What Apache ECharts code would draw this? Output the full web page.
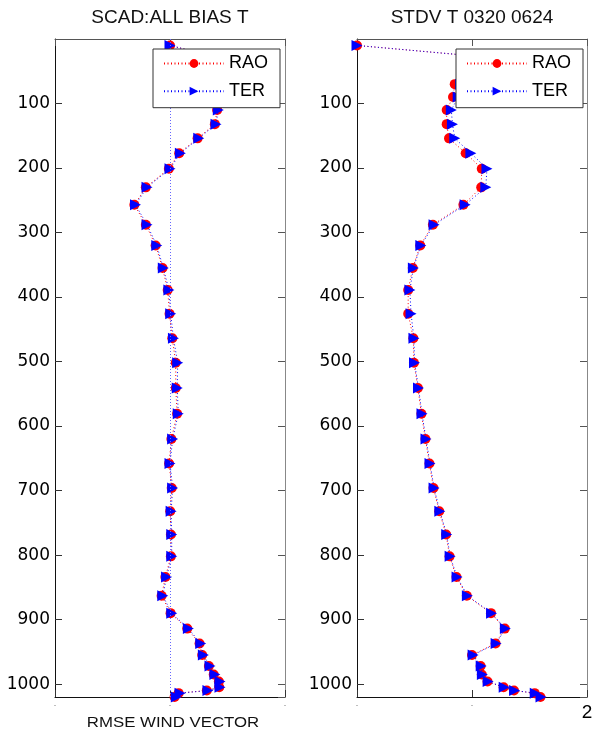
<!DOCTYPE html>
<html>
<head>
<meta charset="utf-8">
<script src="https://cdn.jsdelivr.net/npm/echarts@6/dist/echarts.min.js"></script>
<style>html,body{margin:0;padding:0;background:#fff}#c{width:596px;height:735px}</style>
</head>
<body>
<div id="c"></div>
<script>
// Pressure levels (hPa)
const levels = [10,30,50,70,90,110,132,154,177,201,230,257,288,320,355,389,426,464,502,541,581,620,658,696,732,768,802,834,863,890,914,937,955,972,985,996,1005,1010,1014,1020];
// Left panel: SCAD:ALL BIAS T
const raoBias = [0,0.45,0.6,0.62,0.5,0.41,0.39,0.24,0.08,-0.01,-0.21,-0.31,-0.21,-0.125,-0.065,-0.02,-0.004,0.02,0.05,0.05,0.062,0.012,-0.008,0.015,0.002,0.008,0.008,-0.04,-0.073,0.005,0.15,0.257,0.28,0.338,0.38,0.425,0.428,0.32,0.075,0.04];
const terBias = [0,0.45,0.6,0.62,0.5,0.42,0.40,0.25,0.09,0.0,-0.20,-0.30,-0.20,-0.115,-0.058,-0.01,0.006,0.03,0.067,0.063,0.072,0.023,0.0,0.023,0.01,0.015,0.015,-0.03,-0.063,0.015,0.16,0.267,0.29,0.348,0.39,0.435,0.435,0.33,0.087,0.055];
// Right panel: STDV T 0320 0624
const raoStdv = [0,1.25,0.98,0.85,0.835,0.78,0.78,0.80,0.945,1.085,1.08,0.925,0.66,0.55,0.485,0.445,0.445,0.49,0.495,0.53,0.56,0.595,0.63,0.665,0.715,0.775,0.805,0.865,0.955,1.165,1.285,1.205,1.0,1.075,1.085,1.135,1.275,1.365,1.545,1.595];
const terStdv = [0,1.25,1.0,0.9,0.88,0.82,0.83,0.85,0.99,1.13,1.12,0.94,0.67,0.555,0.49,0.46,0.47,0.495,0.50,0.535,0.565,0.60,0.635,0.67,0.72,0.78,0.81,0.87,0.96,1.17,1.29,1.21,1.01,1.08,1.09,1.14,1.28,1.37,1.55,1.60];
const titles = ['SCAD:ALL BIAS T', 'STDV T 0320 0624'];
const xLabel = 'RMSE WIND VECTOR';
const seriesNames = ['RAO', 'TER'];

const pairs = (xs) => levels.map((p, i) => [xs[i], p]);

const tickFont = 'DejaVu Sans';
const txtFont = 'Liberation Sans';

function yAxes(gi) {
  return [
    { gridIndex: gi, type: 'value', inverse: true, min: 0, max: 1020, interval: 100, position: 'left',
      axisLine: { show: true, onZero: false, lineStyle: { color: '#111', width: 1 } },
      axisTick: { show: true, inside: true, length: 7, lineStyle: { color: '#333' } },
      axisLabel: { show: true, showMinLabel: false, showMaxLabel: false, margin: 5, color: '#000', fontFamily: tickFont, fontSize: 17,
        formatter: (v) => String(v) },
      splitLine: { show: false } },
    { gridIndex: gi, type: 'value', inverse: true, min: 0, max: 1020, interval: 100, position: 'right',
      axisLine: { show: true, onZero: false, lineStyle: { color: '#888', width: 1 } },
      axisTick: { show: true, inside: true, length: 7, lineStyle: { color: '#555' } },
      axisLabel: { show: false }, splitLine: { show: false } }
  ];
}
function xAxes(gi, min, max, fmt) {
  return [
    { gridIndex: gi, type: 'value', min: min, max: max, interval: 1, position: 'bottom',
      axisLine: { show: true, onZero: false, lineStyle: { color: '#111', width: 1 } },
      axisTick: { show: true, inside: true, length: 7, lineStyle: { color: '#333' } },
      axisLabel: { show: true, margin: 5, formatter: fmt,
        rich: { s: { fontSize: 6, lineHeight: 6, color: '#555', fontFamily: txtFont },
                b: { fontSize: 19, lineHeight: 19, color: '#000', fontFamily: txtFont, padding: [3, 0, 0, 0] } } },
      splitLine: { show: false } },
    { gridIndex: gi, type: 'value', min: min, max: max, interval: 1, position: 'top',
      axisLine: { show: true, onZero: false, lineStyle: { color: '#555', width: 1 } },
      axisTick: { show: true, inside: true, length: 7, lineStyle: { color: '#555' } },
      axisLabel: { show: false }, splitLine: { show: false } }
  ];
}

function mkSeries(name, data, xi, yi, extra) {
  const isRao = name === 'RAO';
  const col = isRao ? '#ff0000' : '#0000ff';
  return Object.assign({
    name: name, type: 'line', xAxisIndex: xi, yAxisIndex: yi, data: data,
    symbol: isRao ? 'circle' : 'triangle', symbolSize: isRao ? 10 : 11, symbolRotate: isRao ? 0 : -90,
    showAllSymbol: true, animation: false,
    lineStyle: { color: col, width: 1, type: [1, 2.5] },
    itemStyle: { color: col, borderWidth: 0 },
    emphasis: { disabled: true },
    z: isRao ? 2 : 3
  }, extra || {});
}

function legend(left) {
  return {
    left: left, top: 49, orient: 'vertical', data: seriesNames,
    itemWidth: 60, itemHeight: 11, itemGap: 9.7,
    padding: [5.5, 12, 7.5, 10],
    backgroundColor: '#fff', borderColor: '#333', borderWidth: 1, borderRadius: 0,
    textStyle: { fontFamily: txtFont, fontSize: 18, lineHeight: 17, color: '#000', padding: [0, 0, 0, 0] },
    selectedMode: false, z: 10
  };
}

const chart = echarts.init(document.getElementById('c'), null, { renderer: 'canvas' });
chart.setOption({
  animation: false,
  backgroundColor: '#fff',
  grid: [
    { left: 55, top: 39, width: 230, height: 658, outerBoundsMode: 'none' },
    { left: 357, top: 39, width: 230, height: 658, outerBoundsMode: 'none' }
  ],
  xAxis: [].concat(
    xAxes(0, -1, 1, () => '{s|-}'),
    xAxes(1, 0, 2, (v) => v === 2 ? '{b|2}' : '{s|-}')
  ),
  yAxis: [].concat(yAxes(0), yAxes(1)),
  legend: [legend(153), legend(456)],
  graphic: [
    { type: 'text', x: 170, y: 18, style: { text: titles[0], fontFamily: txtFont, fontSize: 19, fill: '#111', textAlign: 'center', textVerticalAlign: 'middle' } },
    { type: 'text', x: 472, y: 18, style: { text: titles[1], fontFamily: txtFont, fontSize: 19, fill: '#111', textAlign: 'center', textVerticalAlign: 'middle' } },
    { type: 'text', x: 173, y: 723, scaleX: 1.2, style: { text: xLabel, fontFamily: txtFont, fontSize: 14, fill: '#111', textAlign: 'center', textVerticalAlign: 'middle' } }
  ],
  series: [
    mkSeries('RAO', pairs(raoBias), 0, 0),
    mkSeries('TER', pairs(terBias), 0, 0, {
      markLine: { silent: true, symbol: 'none', label: { show: false },
        lineStyle: { color: '#6666ff', type: [1, 2], width: 1 },
        data: [{ xAxis: 0 }] }
    }),
    mkSeries('RAO', pairs(raoStdv), 2, 2),
    mkSeries('TER', pairs(terStdv), 2, 2)
  ]
});
</script>
</body>
</html>
